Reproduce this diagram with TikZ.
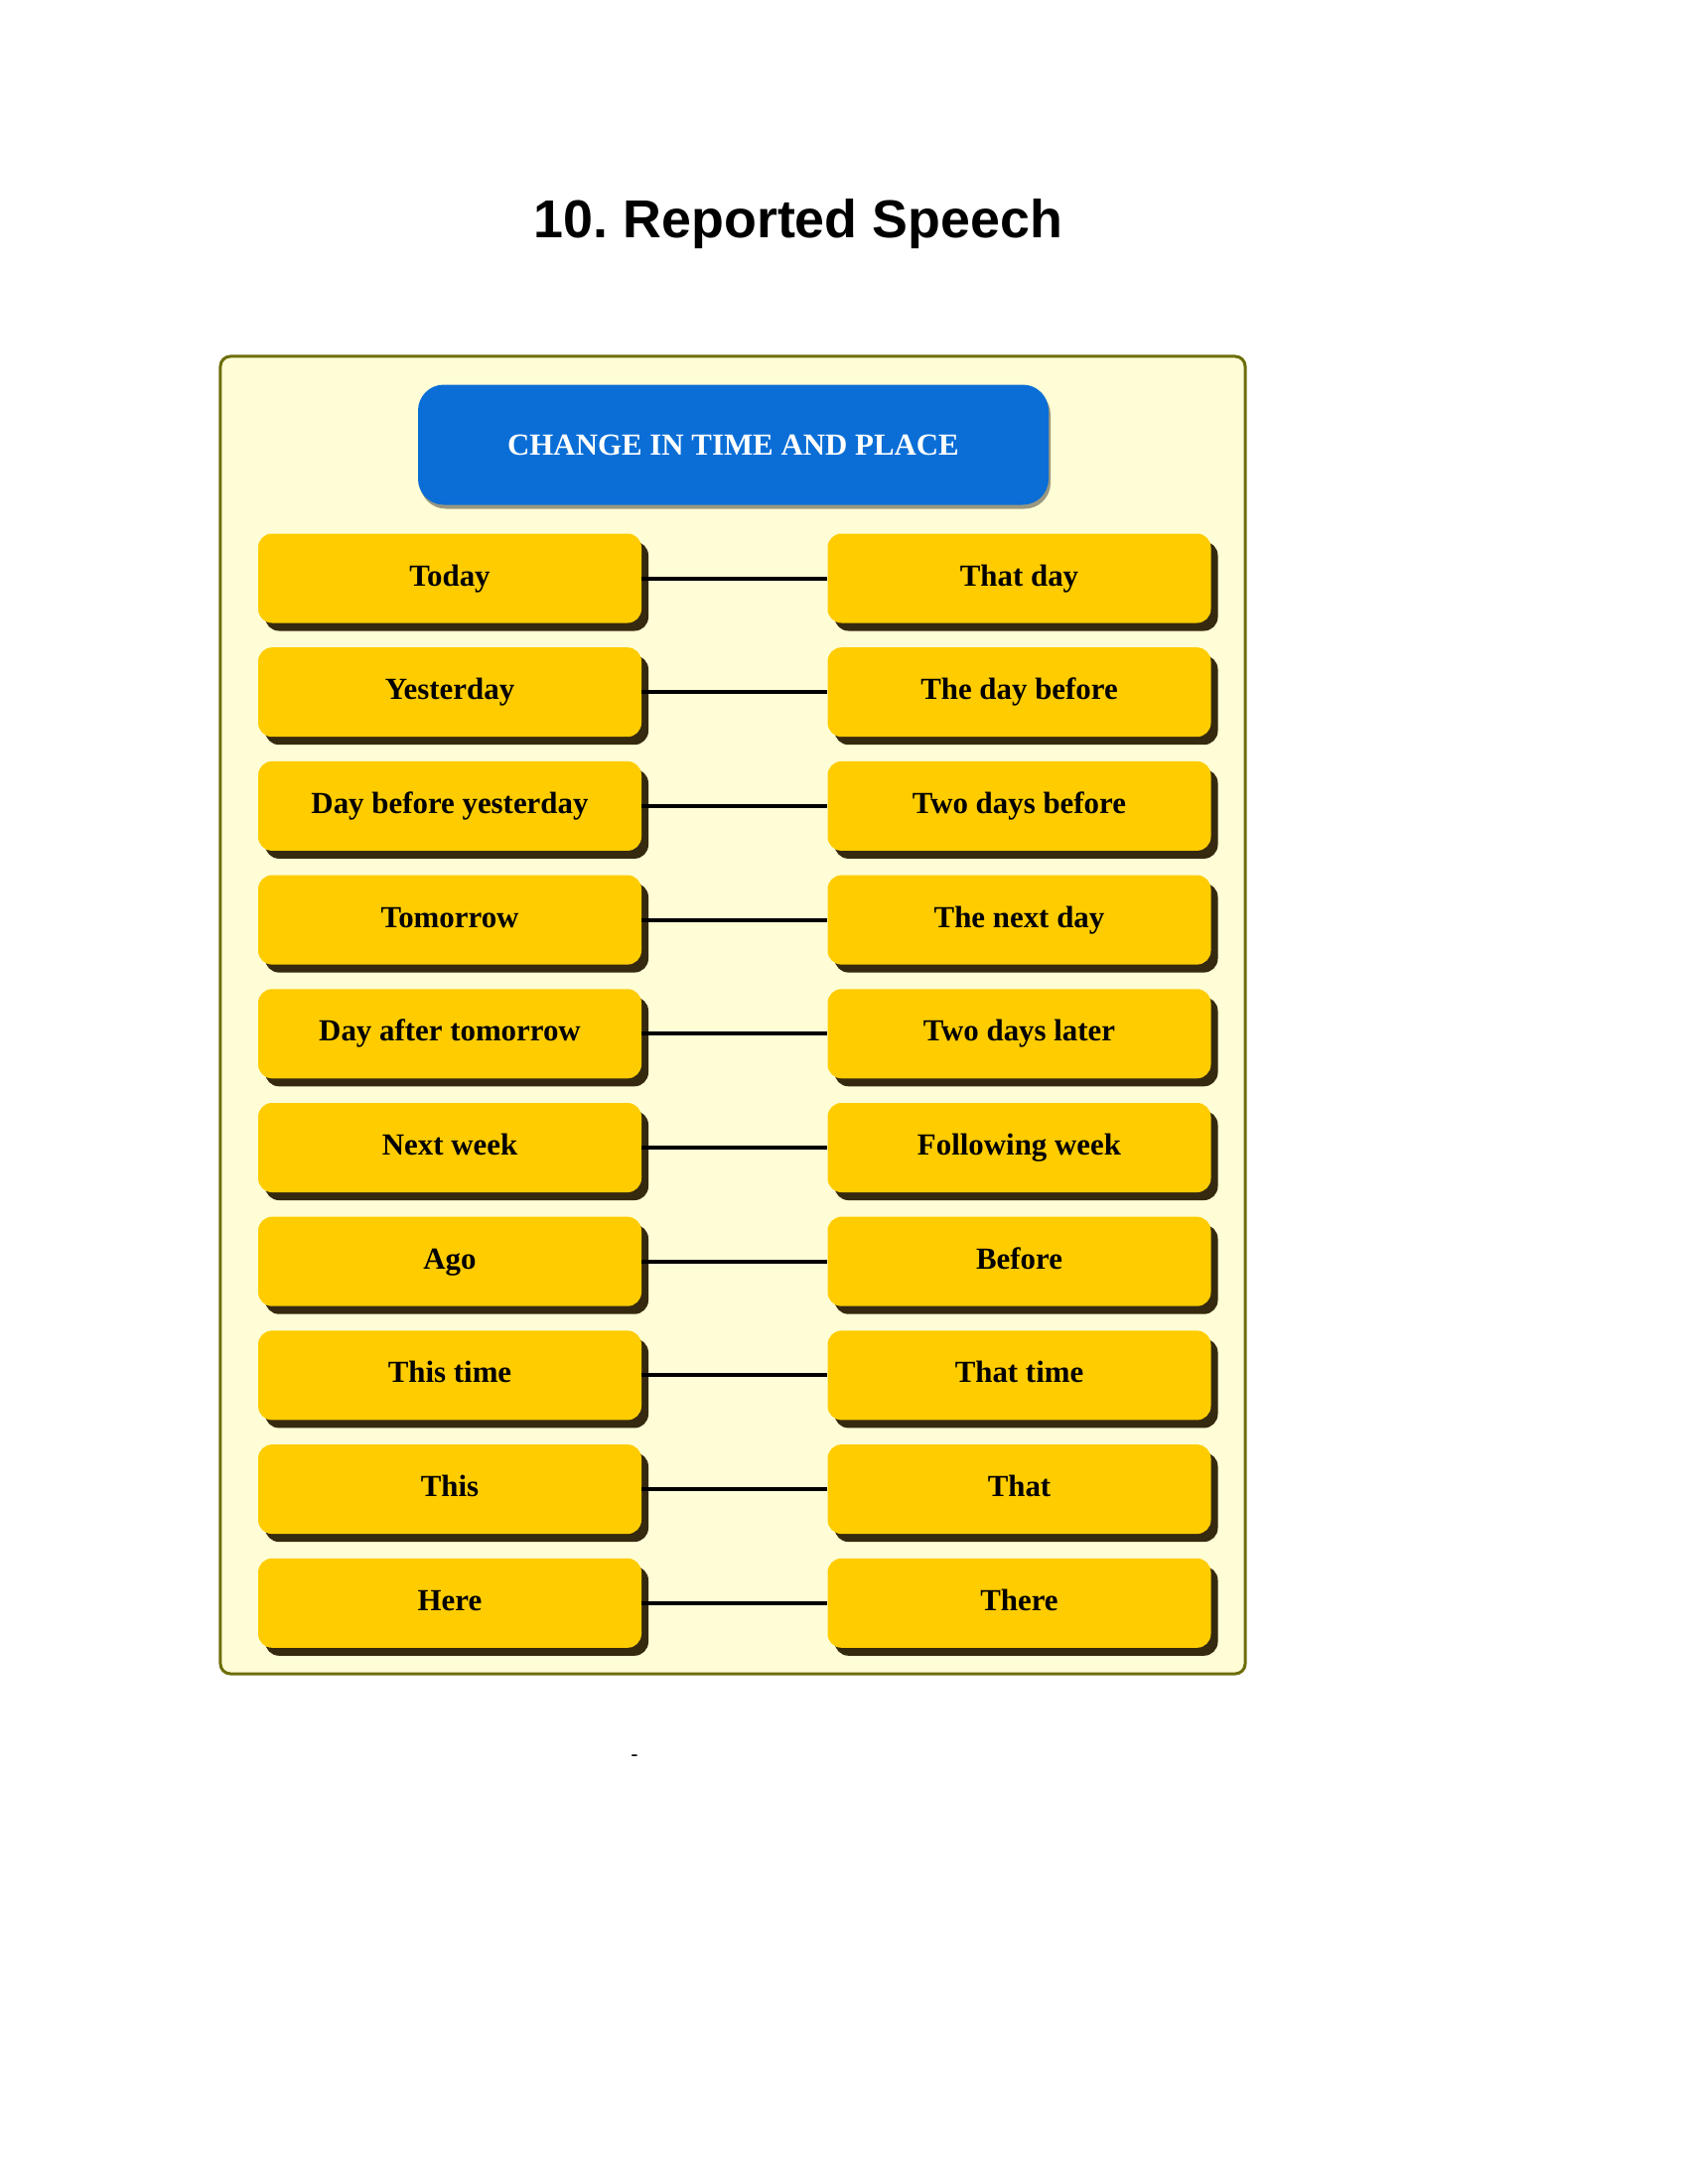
\documentclass[tikz,border=0pt]{standalone}
\usepackage{fontspec}
\setmainfont{Liberation Serif}
\newfontfamily\titlefont[BoldFont={Liberation Sans Bold}]{Liberation Sans}
\usepackage{xcolor}
\usetikzlibrary{positioning,shadows}
\definecolor{boxyellow}{HTML}{FFCC00}
\definecolor{headblue}{HTML}{0A6ED6}
\definecolor{panelfill}{HTML}{FFFDD6}
\definecolor{paneledge}{HTML}{6E6E0A}
\definecolor{shade}{HTML}{2B1E05}

\begin{document}
\frenchspacing
\begin{tikzpicture}[x=1bp,y=-1bp,
	word/.style={fill=boxyellow,rounded corners=14bp,minimum width=386bp,minimum height=90bp,inner sep=0pt,
		text height=22bp,text depth=7bp,
		font=\fontsize{31}{35}\selectfont\bfseries,
		drop shadow={shadow xshift=7bp,shadow yshift=-8bp,fill=shade,opacity=.95}},
	link/.style={line width=4bp,black}]
	\useasboundingbox (0,0) rectangle (1700,2200);
	\node[font=\titlefont\fontsize{54}{60}\selectfont\bfseries] (title) at (804,226) {10. Reported Speech};
	\node[draw=paneledge,fill=panelfill,line width=3bp,rounded corners=10bp,minimum width=1032bp,minimum height=1327bp] (panel) at (738,1022.5) {};
	\node[fill=headblue,rounded corners=26bp,minimum width=635bp,minimum height=121bp,text=white,
		font=\fontsize{31}{35}\selectfont\bfseries,
		drop shadow={shadow xshift=2bp,shadow yshift=-4bp,fill=black,opacity=.4}] (head) at (738.5,448) {CHANGE IN TIME AND PLACE};
	%\node[word, below left=of head] (direct1) {Today};

	\foreach \a/\b [count=\i] in {Today/That day, Yesterday/The day before, Day before yesterday/Two days before,
		Tomorrow/The next day, Day after tomorrow/Two days later, Next week/Following week, Ago/Before,
		This time/That time, This/That, Here/There}
	{
		\node[word] (direct\i) at (453,{582.5+114.7*(\i-1)}) {\a};
		\node[word] (reported\i) at (1026.5,{582.5+114.7*(\i-1)}) {\b};
		\draw[link] (direct\i) -- (reported\i);
	}
	\node[font=\titlefont\fontsize{22}{24}\selectfont] (dash) at (639,1771) {-};
\end{tikzpicture}
\end{document}
